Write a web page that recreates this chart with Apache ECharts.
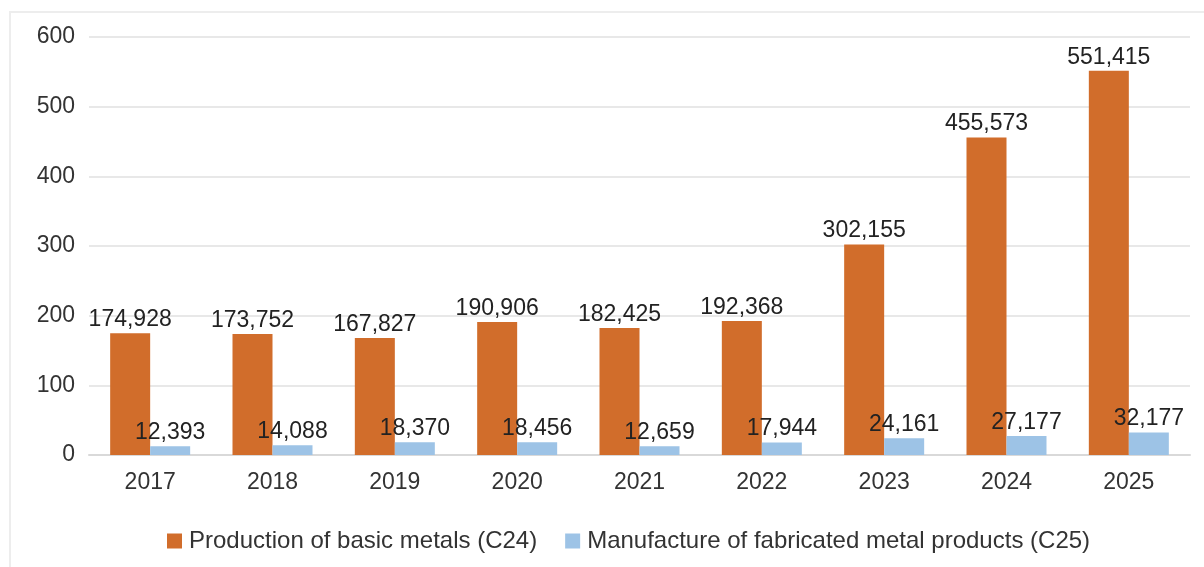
<!DOCTYPE html>
<html>
<head>
<meta charset="utf-8">
<script src="https://cdn.jsdelivr.net/npm/echarts@6/dist/echarts.min.js"></script>
<style>
html,body{margin:0;padding:0;background:#fff;}
#frame{position:absolute;left:9px;top:11px;width:1210px;height:580px;border:2px solid #ededed;box-sizing:border-box;}
#chart{position:absolute;left:0;top:0;width:1204px;height:567px;}
</style>
</head>
<body>
<div id="frame"></div>
<div id="chart"></div>
<script>
const categories = ['2017','2018','2019','2020','2021','2022','2023','2024','2025'];
const basicMetals = [174.928, 173.752, 167.827, 190.906, 182.425, 192.368, 302.155, 455.573, 551.415];
const fabricatedMetal = [12.393, 14.088, 18.370, 18.456, 12.659, 17.944, 24.161, 27.177, 32.177];
const seriesNames = ['Production of basic metals (C24)', 'Manufacture of fabricated metal products (C25)'];

const fontFamily = '"Liberation Sans", Arial, sans-serif';
const fmt = p => p.value.toFixed(3).replace('.', ',');

const chart = echarts.init(document.getElementById('chart'), null, {renderer:'canvas'});
chart.setOption({
  animation: false,
  textStyle: {fontFamily: fontFamily},
  grid: {left: 89, right: 14, top: 37, bottom: 112, containLabel: false},
  legend: {
    left: 162, top: 524,
    itemWidth: 15, itemHeight: 15, itemGap: 28,
    icon: 'rect',
    textStyle: {fontSize: 24, color: '#333', fontFamily: fontFamily, padding: [0,0,0,2]},
    data: seriesNames
  },
  xAxis: {
    type: 'category',
    data: categories,
    axisLine: {show: true, lineStyle: {color: '#d9d9d9', width: 2}},
    axisTick: {show: false},
    axisLabel: {fontSize: 23, color: '#333', margin: 16, fontFamily: fontFamily}
  },
  yAxis: {
    type: 'value',
    min: 0, max: 600, interval: 100,
    axisLine: {show: false},
    axisTick: {show: false},
    splitLine: {lineStyle: {color: '#e8e8e8', width: 2}},
    axisLabel: {fontSize: 23, color: '#333', margin: 14, fontFamily: fontFamily}
  },
  series: [
    {
      name: seriesNames[0], type: 'bar', data: basicMetals,
      barWidth: 40, barGap: '0%',
      itemStyle: {color: '#D16D2B'},
      label: {show: true, position: 'top', distance: 2, formatter: fmt, fontSize: 23, color: '#222', fontFamily: fontFamily}
    },
    {
      name: seriesNames[1], type: 'bar', data: fabricatedMetal,
      barWidth: 40, barGap: '0%',
      itemStyle: {color: '#9DC3E6'},
      label: {show: true, position: 'top', distance: 2, formatter: fmt, fontSize: 23, color: '#222', fontFamily: fontFamily}
    }
  ]
});
</script>
</body>
</html>
